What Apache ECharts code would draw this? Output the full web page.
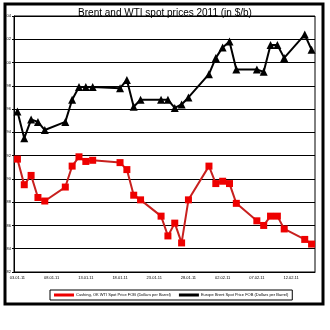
<!DOCTYPE html>
<html>
<head>
<meta charset="utf-8">
<script src="https://cdn.jsdelivr.net/npm/echarts@6/dist/echarts.min.js"></script>
<style>html,body{margin:0;padding:0;background:#fff}#c{width:330px;height:330px}</style>
</head>
<body>
<div id="c"></div>
<script>
var dates = ["03.01.11","04.01.11","05.01.11","06.01.11","07.01.11","08.01.11","09.01.11","10.01.11","11.01.11","12.01.11","13.01.11","14.01.11","15.01.11","16.01.11","17.01.11","18.01.11","19.01.11","20.01.11","21.01.11","22.01.11","23.01.11","24.01.11","25.01.11","26.01.11","27.01.11","28.01.11","29.01.11","30.01.11","31.01.11","01.02.11","02.02.11","03.02.11","04.02.11","05.02.11","06.02.11","07.02.11","08.02.11","09.02.11","10.02.11","11.02.11","12.02.11","13.02.11","14.02.11","15.02.11"];
var wti = [91.7,89.5,90.3,88.4,88.1,null,null,89.3,91.1,91.9,91.5,91.6,null,null,null,91.4,90.8,88.6,88.2,null,null,86.8,85.1,86.2,84.5,88.2,null,null,91.1,89.6,89.8,89.6,87.9,null,null,86.4,86.0,86.8,86.8,85.7,null,null,84.8,84.4];
var brent = [95.8,93.5,95.1,94.9,94.2,null,null,94.9,96.8,97.9,97.9,97.9,null,null,null,97.8,98.5,96.2,96.8,null,null,96.8,96.8,96.1,96.4,97.0,null,null,99.0,100.4,101.3,101.8,99.4,null,null,99.4,99.2,101.5,101.5,100.4,null,null,102.4,101.1];
var yMin = 82, yMax = 104, yStep = 2;
var wtiName = "Cushing, OK WTI Spot Price FOB (Dollars per Barrel)";
var brentName = "Europe Brent Spot Price FOB (Dollars per Barrel)";

var chart = echarts.init(document.getElementById('c'));
chart.setOption({
  animation: false,
  textStyle: {fontFamily: 'Liberation Sans'},
  title: {
    text: 'Brent and WTI spot prices 2011 (in $/b)',
    left: 'center', top: 3,
    textStyle: {fontSize: 10, fontWeight: 'normal', color: '#000', fontFamily: 'Liberation Sans'}
  },
  graphic: [{
    type: 'rect', shape: {x: 5, y: 4, width: 318, height: 300},
    style: {fill: 'none', stroke: '#000', lineWidth: 3}, z: -1
  }],
  legend: {
    left: 50, top: 290,
    padding: [3, 4], itemGap: 8, itemWidth: 20, itemHeight: 3,
    icon: 'rect',
    borderColor: '#000', borderWidth: 1,
    textStyle: {fontSize: 4, color: '#000', padding: [0,0,0,-3]},
    data: [wtiName, brentName]
  },
  grid: {left: 14, right: 15, top: 16, bottom: 58, show: true, borderColor: '#000', borderWidth: 1},
  xAxis: {
    type: 'category', data: dates, boundaryGap: true,
    axisLine: {lineStyle: {color: '#000', width: 1}},
    axisTick: {alignWithLabel: true, interval: 4, length: 2, lineStyle: {color: '#000'}},
    axisLabel: {interval: 4, fontSize: 4, color: '#000', margin: 4},
    splitLine: {show: false}
  },
  yAxis: {
    type: 'value', min: yMin, max: yMax, interval: yStep,
    axisLine: {show: true, lineStyle: {color: '#000', width: 1}},
    axisTick: {show: true, length: 2, lineStyle: {color: '#000'}},
    axisLabel: {fontSize: 4, color: '#000', margin: 3},
    splitLine: {lineStyle: {color: '#000', width: 1}}
  },
  series: [{
    name: wtiName, type: 'line', data: wti, connectNulls: true,
    showAllSymbol: true,
    symbol: 'rect', symbolSize: 7,
    itemStyle: {color: '#ee0000'},
    lineStyle: {color: '#c8201e', width: 2}
  }, {
    name: brentName, type: 'line', data: brent, connectNulls: true,
    showAllSymbol: true,
    symbol: 'triangle', symbolSize: 8,
    itemStyle: {color: '#000'},
    lineStyle: {color: '#000', width: 2}
  }]
});
</script>
</body>
</html>
